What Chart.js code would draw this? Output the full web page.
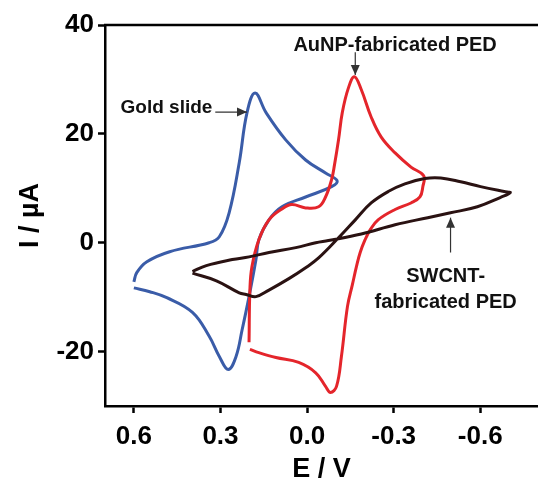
<!DOCTYPE html>
<html>
<head>
<meta charset="utf-8">
<script src="https://cdn.jsdelivr.net/npm/chart.js@4/dist/chart.umd.min.js"></script>
<style>
  html, body { margin: 0; padding: 0; background: #fff; }
  #wrap { width: 538px; height: 486px; }
</style>
</head>
<body>
<div id="wrap"><canvas id="cv"></canvas></div>
<script>
// Potential (V) and current (uA)
const goldE = [0.600, 0.545, 0.486, 0.397, 0.339, 0.304, 0.273, 0.246, 0.225, 0.201, 0.177, 0.167, 0.132, 0.087, 0.005, -0.085, -0.104,
               -0.064, 0.005, 0.074, 0.142, 0.180, 0.208, 0.235, 0.270, 0.304, 0.339, 0.476, 0.555, 0.590, 0.600];
const goldI = [-8.3, -9.0, -10.1, -12.8, -17.2, -20.9, -23.3, -20.9, -16.0, -9.9, -3.1, 0.55, 4.2, 6.6, 8.4, 10.3, 11.4,
               12.8, 15.2, 18.9, 23.9, 27.5, 23.9, 14.7, 5.5, 1.1, 0.0, -1.65, -3.5, -5.5, -7.2];

const aunpE = [0.201, 0.198, 0.191, 0.167, 0.132, 0.087, 0.053, 0.005, -0.040, -0.064, -0.085, -0.095, -0.109, -0.122, -0.143, -0.164,
               -0.188, -0.222, -0.257, -0.305, -0.360, -0.404, -0.401, -0.391, -0.360, -0.305, -0.246, -0.219, -0.201, -0.184, -0.171,
               -0.157, -0.140, -0.119, -0.102, -0.081, -0.064, -0.030, 0.029, 0.108, 0.167, 0.198];
const aunpI = [-18.3, -8.6, -4.4, 0.55, 4.2, 6.2, 7.0, 6.4, 6.6, 8.4, 11.6, 14.3, 18.9, 23.9, 28.4, 30.5,
               28.1, 23.1, 19.4, 16.5, 13.9, 12.3, 10.3, 8.4, 7.3, 6.1, 4.2, 2.4, 0.55, -1.8, -4.4,
               -7.7, -11.7, -20.9, -26.4, -27.5, -26.4, -23.9, -22.0, -21.1, -20.2, -19.6];

const swcntE = [0.397, 0.349, 0.259, 0.201, 0.132, 0.039, -0.030, -0.074, -0.188, -0.305, -0.418, -0.497, -0.590, -0.669, -0.704,
                -0.683, -0.601, -0.532, -0.463, -0.408, -0.339, -0.281, -0.222, -0.167, -0.109, -0.040, 0.005, 0.063, 0.132, 0.177,
                0.211, 0.235, 0.314, 0.397];
const swcntI = [-5.3, -4.2, -3.1, -2.6, -1.8, -0.9, 0.0, 0.4, 1.6, 3.3, 4.6, 5.5, 6.6, 8.3, 9.2,
                9.4, 10.3, 11.2, 11.9, 11.8, 10.8, 9.4, 7.3, 4.2, 0.9, -2.8, -4.6, -6.6, -8.7, -9.9,
                -9.5, -9.2, -7.0, -5.6];

const xTicks = [0.6, 0.3, 0.0, -0.3, -0.6];
const yTicks = [-20, 0, 20, 40];

const toPts = (xs, ys) => xs.map((x, i) => ({ x: x, y: ys[i] }));

const FONT = "'Liberation Sans', Arial, sans-serif";

// top frame line + arrow labels
const decor = {
  id: "decor",
  afterDraw(chart) {
    const ctx = chart.ctx;
    const a = chart.chartArea;
    const xs = chart.scales.x, ys = chart.scales.y;
    const px = v => xs.getPixelForValue(v), py = v => ys.getPixelForValue(v);

    ctx.save();
    ctx.strokeStyle = "#000";
    ctx.lineWidth = 2.5;
    ctx.beginPath();
    ctx.moveTo(a.left - 1, a.top);
    ctx.lineTo(chart.width, a.top);
    ctx.stroke();

    function arrow(x1, y1, x2, y2) {
      ctx.strokeStyle = "#333";
      ctx.fillStyle = "#333";
      ctx.lineWidth = 1.2;
      ctx.beginPath();
      ctx.moveTo(x1, y1);
      ctx.lineTo(x2, y2);
      ctx.stroke();
      const ang = Math.atan2(y2 - y1, x2 - x1);
      const L = 10, W = 4.5;
      ctx.beginPath();
      ctx.moveTo(x2, y2);
      ctx.lineTo(x2 - L * Math.cos(ang) + W * Math.sin(ang), y2 - L * Math.sin(ang) - W * Math.cos(ang));
      ctx.lineTo(x2 - L * Math.cos(ang) - W * Math.sin(ang), y2 - L * Math.sin(ang) + W * Math.cos(ang));
      ctx.closePath();
      ctx.fill();
    }

    ctx.fillStyle = "#111";
    ctx.textBaseline = "middle";

    ctx.font = "bold 19px " + FONT;
    ctx.textAlign = "right";
    ctx.fillText("Gold slide", px(0.328), py(24.8));
    arrow(px(0.318), py(24.0), px(0.208), py(24.0));

    ctx.font = "bold 20px " + FONT;
    ctx.fillStyle = "#111";
    ctx.textAlign = "center";
    ctx.fillText("AuNP-fabricated PED", px(-0.305), py(36.3));
    arrow(px(-0.167), py(35.0), px(-0.167), py(30.8));

    ctx.fillStyle = "#111";
    ctx.fillText("SWCNT-", px(-0.48), py(-6.2));
    ctx.fillText("fabricated PED", px(-0.48), py(-11.0));
    arrow(px(-0.497), py(-1.8), px(-0.497), py(4.6));
    ctx.restore();
  }
};

const lineDs = (label, pts, color) => ({
  label: label,
  data: pts,
  showLine: true,
  borderColor: color,
  borderWidth: 3,
  pointRadius: 0,
  tension: 0.4,
  fill: false
});

new Chart(document.getElementById("cv"), {
  type: "scatter",
  data: {
    datasets: [
      lineDs("SWCNT-fabricated PED", toPts(swcntE, swcntI), "#2a1212"),
      lineDs("AuNP-fabricated PED", toPts(aunpE, aunpI), "#e4252b"),
      lineDs("Gold slide", toPts(goldE, goldI), "#3a5ca8")
    ]
  },
  options: {
    responsive: true,
    maintainAspectRatio: false,
    animation: false,
    layout: { padding: { top: 25, right: 0, left: 0, bottom: 0 } },
    plugins: { legend: { display: false }, tooltip: { enabled: false } },
    scales: {
      x: {
        type: "linear",
        reverse: true,
        min: -0.8,
        max: 0.7,
        afterBuildTicks: s => { s.ticks = xTicks.map(v => ({ value: v })); },
        afterFit: s => { s.height = 80; },
        ticks: {
          color: "#000",
          font: { family: FONT, size: 26, weight: "bold" },
          padding: 8,
          maxRotation: 0,
          callback: v => v.toFixed(1)
        },
        grid: { drawOnChartArea: false, drawTicks: true, tickLength: 7, tickWidth: 2.5, color: "#000" },
        border: { display: true, width: 2.5, color: "#000" },
        title: {
          display: true,
          text: "E / V",
          color: "#000",
          font: { family: FONT, size: 27, weight: "bold" },
          padding: { top: 0, bottom: 0 }
        }
      },
      y: {
        type: "linear",
        min: -30,
        max: 40,
        afterBuildTicks: s => { s.ticks = yTicks.map(v => ({ value: v })); },
        afterFit: s => { s.width = 105; },
        ticks: {
          color: "#000",
          font: { family: FONT, size: 26, weight: "bold" },
          padding: 4
        },
        grid: { drawOnChartArea: false, drawTicks: true, tickLength: 7, tickWidth: 2.5, color: "#000" },
        border: { display: true, width: 2.5, color: "#000" },
        title: {
          display: true,
          text: "I / \u00b5A",
          color: "#000",
          font: { family: FONT, size: 27, weight: "bold" },
          padding: { top: 14, bottom: 0 }
        }
      }
    }
  },
  plugins: [decor]
});
</script>
</body>
</html>
